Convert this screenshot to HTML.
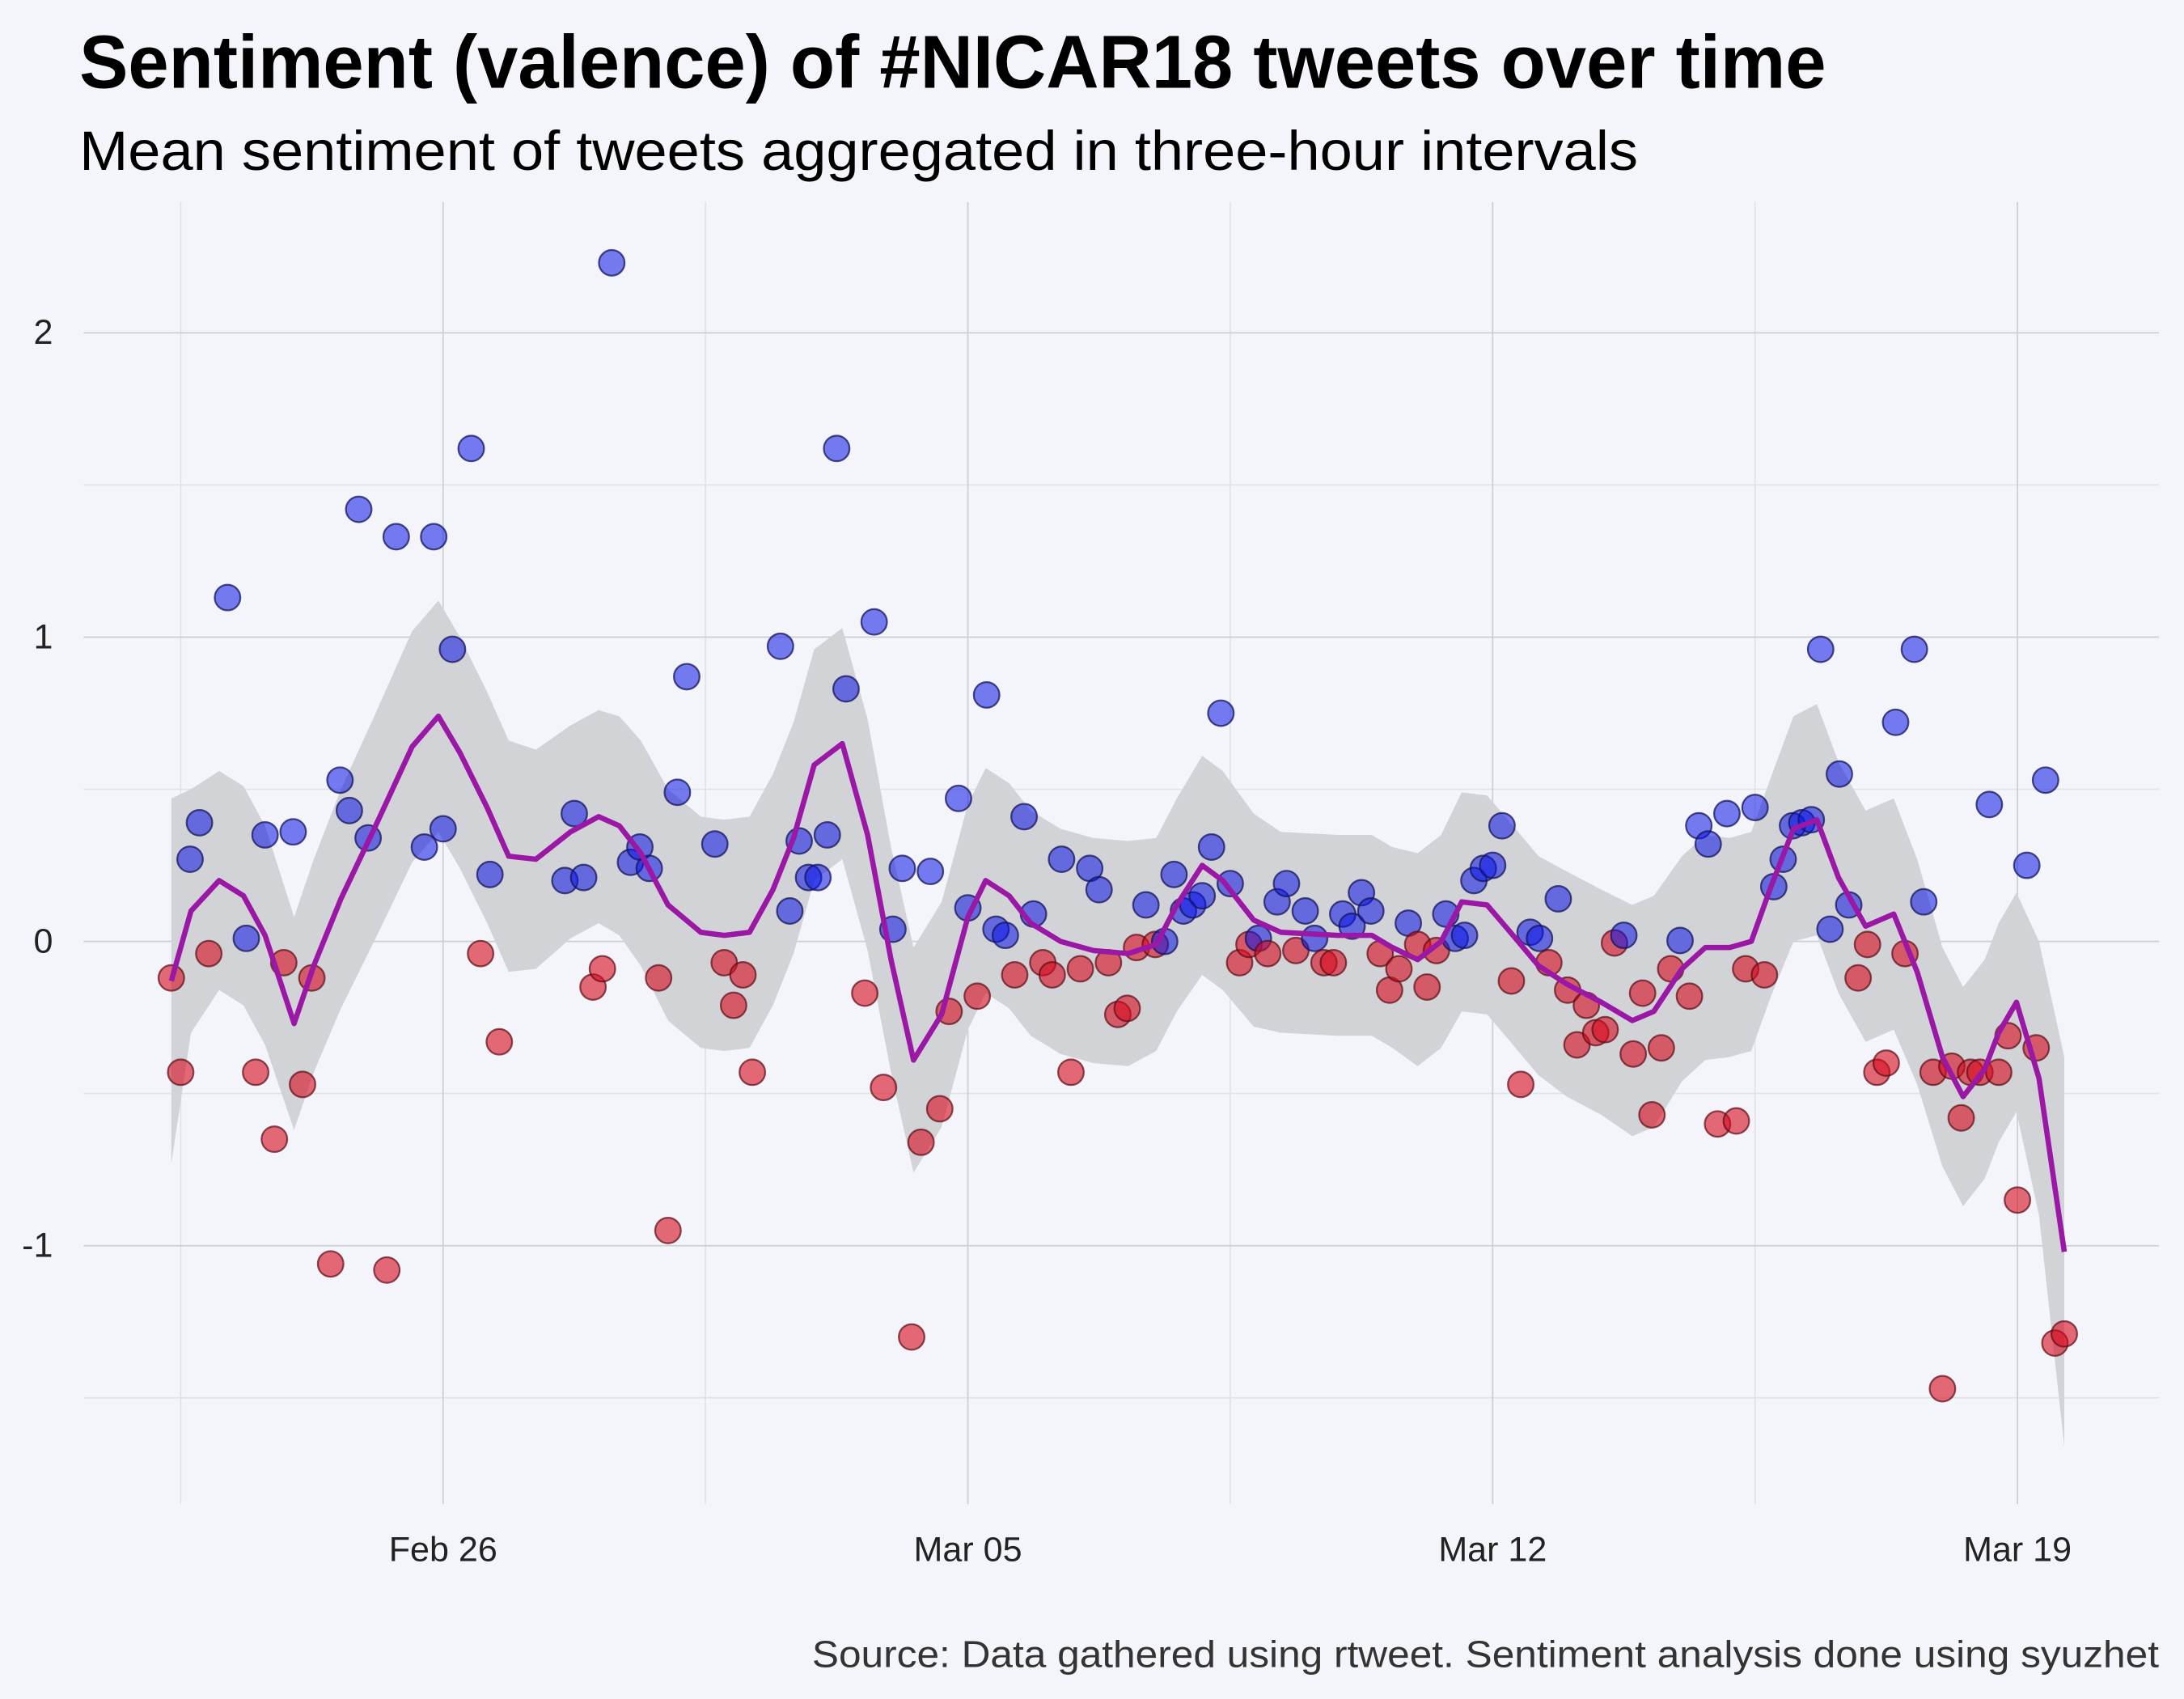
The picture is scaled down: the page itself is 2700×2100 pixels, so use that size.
<!DOCTYPE html>
<html><head><meta charset="utf-8">
<style>
html,body{margin:0;padding:0;background:#f4f5fa;}
svg{display:block;}
text{font-family:"Liberation Sans Narrow","Liberation Sans",sans-serif;}
</style></head>
<body>
<svg id="chart" width="2700" height="2100" viewBox="0 0 1568 1220" preserveAspectRatio="none" xmlns="http://www.w3.org/2000/svg">
<rect x="0" y="0" width="1568" height="1220" fill="#f4f5fa"/>
<text x="57" y="63" font-size="54" font-weight="bold" fill="#000" textLength="1254" lengthAdjust="spacingAndGlyphs">Sentiment (valence) of #NICAR18 tweets over time</text>
<text x="57" y="122" font-size="40" fill="#000" textLength="1119" lengthAdjust="spacingAndGlyphs">Mean sentiment of tweets aggregated in three-hour intervals</text>
<g id="grid"></g>
<g id="ribbon"></g>
<g id="points"></g>
<g id="line"></g>
<g id="axes"></g>
<text x="1550" y="1197" font-size="27" fill="#333" text-anchor="end" textLength="967" lengthAdjust="spacingAndGlyphs">Source: Data gathered using rtweet. Sentiment analysis done using syuzhet</text>
</svg>
<script>
// slot = 3-hour interval index starting Feb 22 09:00
const pointSlots = [0,1,2,3,4,6,8,9,10,11,12,13,14,15,17,18,19,20,21,23,24,27,28,29,30,32,33,34,35,42,43,44,45,46,47,49,50,51,52,53,54,55,58,59,60,61,62,65,66,67,68,69,70,71,72,74,75,76,77,78,79,80,81,82,83,84,85,86,87,88,89,90,91,92,93,94,95,96,97,98,99,100,101,102,103,104,105,106,107,108,109,110,111,112,113,114,115,116,117,118,119,120,121,122,123,124,125,126,127,128,129,130,131,132,133,134,135,136,137,138,139,140,141,142,143,144,145,146,147,148,149,150,151,152,153,154,155,156,157,158,159,160,161,162,163,164,165,166,167,168,169,170,171,172,173,174,175,176,177,178,179,180,181,182,183,184,185,186,187,188,189,190,191,192,193,194,195,196,197,198,199,200,201,202];
const pointValues = [-0.12,-0.43,0.27,0.39,-0.04,1.13,0.01,-0.43,0.35,-0.65,-0.07,0.36,-0.47,-0.12,-1.06,0.53,0.43,1.42,0.34,-1.08,1.33,0.31,1.33,0.37,0.96,1.62,-0.04,0.22,-0.33,0.20,0.42,0.21,-0.15,-0.09,2.23,0.26,0.31,0.24,-0.12,-0.95,0.49,0.87,0.32,-0.07,-0.21,-0.11,-0.43,0.97,0.10,0.33,0.21,0.21,0.35,1.62,0.83,-0.17,1.05,-0.48,0.04,0.24,-1.30,-0.66,0.23,-0.55,-0.23,0.47,0.11,-0.18,0.81,0.04,0.02,-0.11,0.41,0.09,-0.07,-0.11,0.27,-0.43,-0.09,0.24,0.17,-0.07,-0.24,-0.22,-0.02,0.12,-0.01,0.00,0.22,0.10,0.12,0.15,0.31,0.75,0.19,-0.07,-0.01,0.01,-0.04,0.13,0.19,-0.03,0.10,0.01,-0.07,-0.07,0.09,0.05,0.16,0.10,-0.04,-0.16,-0.09,0.06,-0.01,-0.15,-0.03,0.09,0.01,0.02,0.20,0.24,0.25,0.38,-0.13,-0.47,0.03,0.01,-0.07,0.14,-0.16,-0.34,-0.21,-0.30,-0.29,-0.005,0.02,-0.37,-0.17,-0.57,-0.35,-0.09,0.003,-0.18,0.38,0.32,-0.60,0.42,-0.59,-0.09,0.44,-0.11,0.18,0.27,0.38,0.39,0.40,0.96,0.04,0.55,0.12,-0.12,-0.01,-0.43,-0.40,0.72,-0.04,0.96,0.13,-0.43,-1.47,-0.41,-0.58,-0.43,-0.43,0.45,-0.43,-0.31,-0.85,0.25,-0.35,0.53,-1.32,-1.29];
const smoothSlots = [0,2.1,5.1,7.7,10,13.1,15.2,18.1,21.8,25.7,28.5,30.8,33.7,36,38.9,42.6,45.6,47.8,50.1,53,56.5,59,61.7,64.2,66.4,68.6,71.6,74.3,76.8,79.2,82.2,85,86.9,89.4,91.7,94.9,98.4,102.1,105.1,107.3,110,112.2,115.5,118.4,124.4,128.1,130.3,133,135.5,137.7,140.4,142.9,145.9,148.9,152.6,155.9,158.2,161.2,163.7,166.3,168.6,170.7,173.1,175.6,177.9,180.8,183.8,186.3,189,191.2,193.5,195,196.9,199.3,202];
const smoothValues = [-0.13,0.10,0.20,0.15,0.02,-0.27,-0.08,0.14,0.38,0.64,0.74,0.62,0.44,0.28,0.27,0.36,0.41,0.38,0.29,0.12,0.03,0.02,0.03,0.17,0.34,0.58,0.65,0.35,-0.06,-0.39,-0.24,0.08,0.20,0.15,0.06,0.00,-0.03,-0.04,-0.01,0.12,0.25,0.20,0.07,0.03,0.02,0.02,-0.02,-0.06,0.00,0.13,0.12,0.03,-0.08,-0.14,-0.20,-0.26,-0.23,-0.09,-0.02,-0.02,0.00,0.18,0.37,0.40,0.21,0.05,0.09,-0.10,-0.38,-0.51,-0.42,-0.30,-0.20,-0.45,-1.02];
const smoothSE = [0.6,0.4,0.36,0.36,0.36,0.35,0.35,0.36,0.37,0.38,0.38,0.38,0.38,0.38,0.36,0.35,0.35,0.36,0.37,0.38,0.38,0.38,0.38,0.38,0.38,0.38,0.38,0.38,0.37,0.37,0.37,0.37,0.37,0.37,0.37,0.37,0.37,0.37,0.35,0.35,0.36,0.36,0.35,0.33,0.33,0.33,0.33,0.35,0.35,0.36,0.36,0.36,0.36,0.37,0.37,0.38,0.38,0.37,0.37,0.36,0.36,0.36,0.37,0.38,0.38,0.38,0.38,0.37,0.36,0.36,0.36,0.36,0.36,0.45,0.64];
const yTicks = [-1,0,1,2];
const yMinor = [-1.5,-0.5,0.5,1.5];
const xTickLabels = ["Feb 26","Mar 05","Mar 12","Mar 19"];
const xTickSlots = [29,85,141,197];
const xMinorSlots = [1,57,113,169];

const NS="http://www.w3.org/2000/svg";
const X0=123, DX=6.728, Y0=676, DY=218.5, PL=60, PR=1550, PT=145, PB=1080;
const xs = s => X0 + s*DX;
const ys = v => Y0 - v*DY;
function mk(tag, parent, attrs){const e=document.createElementNS(NS,tag);for(const k in attrs)e.setAttribute(k,attrs[k]);parent.appendChild(e);return e;}
const grid=document.getElementById('grid'), axes=document.getElementById('axes');
yMinor.forEach(v=>{const l=mk('line',grid,{x1:PL,x2:PR,y1:ys(v),y2:ys(v),stroke:'#e1e2e6','stroke-width':1});

});
xMinorSlots.forEach(s=>{const l=mk('line',grid,{x1:xs(s),x2:xs(s),y1:PT,y2:PB,stroke:'#e1e2e6','stroke-width':1});

});
yTicks.forEach(v=>{const l=mk('line',grid,{x1:PL,x2:PR,y1:ys(v),y2:ys(v),stroke:'#cdced3','stroke-width':1});


const t=mk('text',axes,{x:38,y:ys(v)+8,'font-size':25,fill:'#222','text-anchor':'end'});t.textContent=String(v);

});
xTickSlots.forEach((s,i)=>{const l=mk('line',grid,{x1:xs(s),x2:xs(s),y1:PT,y2:PB,stroke:'#cdced3','stroke-width':1});


const t=mk('text',axes,{x:xs(s),y:1121,'font-size':25,fill:'#222','text-anchor':'middle'});t.textContent=xTickLabels[i];

});
// ribbon
let up=smoothSlots.map((s,i)=>xs(s)+','+ys(smoothValues[i]+smoothSE[i]));
let lo=smoothSlots.map((s,i)=>xs(s)+','+ys(smoothValues[i]-smoothSE[i])).reverse();
const rb=mk('polygon',document.getElementById('ribbon'),{points:up.concat(lo).join(' '),fill:'#d2d3d6'});


// points
const pg=document.getElementById('points');
pointSlots.forEach((s,i)=>{const v=pointValues[i];const pos=v>=0;
const c=mk('circle',pg,{cx:xs(s),cy:ys(v),r:9.2,fill:pos?'rgba(10,20,230,0.55)':'rgba(215,10,30,0.6)',stroke:pos?'rgba(20,20,90,0.75)':'rgba(90,10,20,0.7)','stroke-width':1.3});

});
// line
const ln=mk('polyline',document.getElementById('line'),{points:smoothSlots.map((s,i)=>xs(s)+','+ys(smoothValues[i])).join(' '),fill:'none',stroke:'#9b17a6','stroke-width':3.8,'stroke-linejoin':'round'});


</script>
</body></html>
